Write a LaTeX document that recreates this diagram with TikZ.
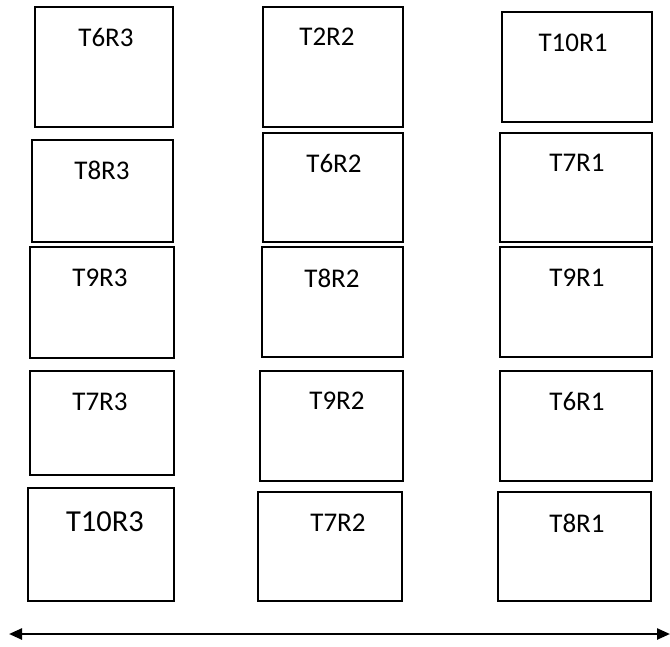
\documentclass[tikz,border=0pt]{standalone}
\usepackage{fontspec}
\setmainfont{Carlito}
\usetikzlibrary{arrows.meta}
\tikzset{
  tbox/.style={draw=black, line width=1.3pt, rectangle, inner sep=0pt},
  tlbl/.style={inner sep=0pt, font=\fontsize{27}{30}\selectfont},
  biglbl/.style={tlbl, font=\fontsize{30.5}{33}\selectfont},
  axisline/.style={line width=2.4pt, {Triangle[length=13pt,width=11pt]}-{Triangle[length=13pt,width=11pt]}}
}
\newcommand\tb[9][]{%
  \node[tbox, minimum width=#4-#2, minimum height=#5-#3] (#1) at ({(#2+#4)/2},{(#3+#5)/2}) {};
}
\newcommand\boxat[7]{%
  \node[tbox, minimum width=#4-#2, minimum height=#5-#3] (#1) at ({(#2+#4)/2},{(#3+#5)/2}) {};
}
\begin{document}
\begin{tikzpicture}[x=1pt,y=-1pt]
\useasboundingbox (0,0) rectangle (670,646);
% column 1
\boxat{a1}{35}{7}{173}{127}{}{}  \node[tlbl] (a1t) at (106,37) {T6R3};
\boxat{a2}{32}{140}{173}{242}{}{} \node[tlbl] (a2t) at (102,170) {T8R3};
\boxat{a3}{30}{247}{174}{358}{}{} \node[tlbl] (a3t) at (100,278) {T9R3};
\boxat{a4}{30}{371}{174}{475}{}{} \node[tlbl] (a4t) at (100,402) {T7R3};
\boxat{a5}{28}{488}{174}{601}{}{} \node[biglbl] (a5t) at (105,522) {T10R3};
% column 2
\boxat{b1}{263}{7}{403}{127}{}{}  \node[tlbl] (b1t) at (327,37) {T2R2};
\boxat{b2}{263}{133}{403}{242}{}{} \node[tlbl] (b2t) at (334,163) {T6R2};
\boxat{b3}{262}{247}{403}{357}{}{} \node[tlbl] (b3t) at (332,278) {T8R2};
\boxat{b4}{260}{371}{403}{481}{}{} \node[tlbl] (b4t) at (337,401) {T9R2};
\boxat{b5}{258}{492}{402}{601}{}{} \node[tlbl] (b5t) at (338,523) {T7R2};
% column 3
\boxat{c1}{502}{12}{652}{122}{}{}  \node[tlbl] (c1t) at (573,43) {T10R1};
\boxat{c2}{500}{133}{652}{242}{}{} \node[tlbl] (c2t) at (577,163) {T7R1};
\boxat{c3}{500}{247}{652}{357}{}{} \node[tlbl] (c3t) at (577,278) {T9R1};
\boxat{c4}{500}{371}{652}{481}{}{} \node[tlbl] (c4t) at (577,401) {T6R1};
\boxat{c5}{498}{492}{651}{601}{}{} \node[tlbl] (c5t) at (577,523) {T8R1};
% axis
\coordinate (axl) at (9,634);
\coordinate (axr) at (670,634);
\draw[axisline] (axl) -- (axr);
\end{tikzpicture}
\end{document}
